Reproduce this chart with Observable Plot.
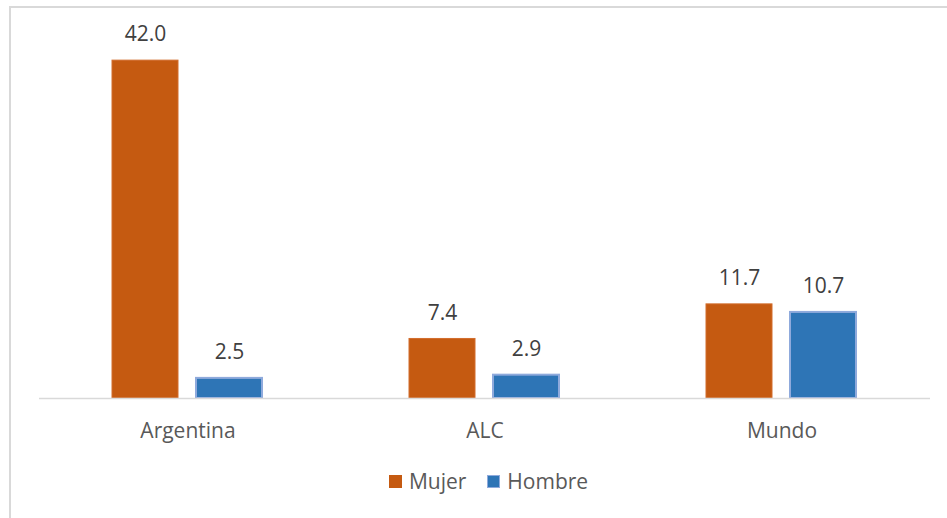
<!DOCTYPE html>
<html>
<head>
<meta charset="utf-8">
<script src="https://cdn.jsdelivr.net/npm/d3@7"></script>
<script src="https://cdn.jsdelivr.net/npm/@observablehq/plot@0.6"></script>
<style>
  html, body { margin: 0; padding: 0; background: #ffffff; overflow: hidden; }
  body { width: 947px; height: 518px; position: relative; font-family: "Open Sans", Lato, sans-serif; }
  #frame { position: absolute; left: 9px; top: 6px; width: 1000px; height: 600px;
           border-left: 2px solid #d9d9d9; border-top: 2px solid #d9d9d9; }
  #chart { position: absolute; left: 0; top: 0; }
  #legend { position: absolute; left: 0; top: 467px; width: 947px; display: flex; justify-content: center;
            align-items: center; font-size: 21px; color: #595959; gap: 21px; padding-left: 30px; box-sizing: border-box; }
  .item { display: flex; align-items: center; gap: 7px; }
  .sw { width: 13px; height: 13px; box-sizing: border-box; }
</style>
</head>
<body>
<div id="frame"></div>
<div id="chart"></div>
<div id="legend"></div>
<script>
// Categories, series and values
const categories = ["Argentina", "ALC", "Mundo"];
const series = ["Mujer", "Hombre"];
const mujer = [42.0, 7.4, 11.7];
const hombre = [2.5, 2.9, 10.7];
const fills = ["#C55A11", "#2E75B6"];
const strokes = ["#D26C2C", "#8FAADC"];

const rows = [];
categories.forEach((c, i) => {
  rows.push({cat: c, serie: "Mujer", value: mujer[i]});
  rows.push({cat: c, serie: "Hombre", value: hombre[i]});
});

const chart = Plot.plot({
  width: 947,
  height: 460,
  marginLeft: 38,
  marginRight: 17,
  marginTop: 36,
  marginBottom: 62,
  style: {background: "transparent", fontFamily: "'Open Sans', Lato, sans-serif"},
  fx: {domain: categories, paddingInner: 0, paddingOuter: 0, label: null},
  x: {domain: series, paddingInner: 0.212, paddingOuter: 0.855, axis: null},
  y: {domain: [0, 45], axis: null},
  marks: [
    Plot.barY(rows.filter(d => d.serie === "Mujer"),
      {fx: "cat", x: "serie", y: "value", fill: fills[0], stroke: strokes[0], strokeWidth: 1}),
    Plot.barY(rows.filter(d => d.serie === "Hombre"),
      {fx: "cat", x: "serie", y: "value", fill: fills[1], stroke: strokes[1], strokeWidth: 2}),
    Plot.text(rows, {fx: "cat", x: "serie", y: "value", text: d => d.value.toFixed(1),
      dy: -26, fontSize: 21, fill: "#404040"}),
    Plot.ruleY([0], {stroke: "#d9d9d9", strokeWidth: 1.5}),
    Plot.axisFx({anchor: "bottom", tickSize: 0, tickPadding: 25, fontSize: 21, color: "#595959", label: null})
  ]
});
document.getElementById("chart").appendChild(chart);

// Legend below the plot
const legend = document.getElementById("legend");
series.forEach((s, i) => {
  const item = document.createElement("div");
  item.className = "item";
  const sw = document.createElement("span");
  sw.className = "sw";
  sw.style.background = fills[i];
  if (i === 1) sw.style.border = "1.5px solid " + strokes[1];
  const t = document.createElement("span");
  t.textContent = s;
  item.appendChild(sw);
  item.appendChild(t);
  legend.appendChild(item);
});
</script>
</body>
</html>
